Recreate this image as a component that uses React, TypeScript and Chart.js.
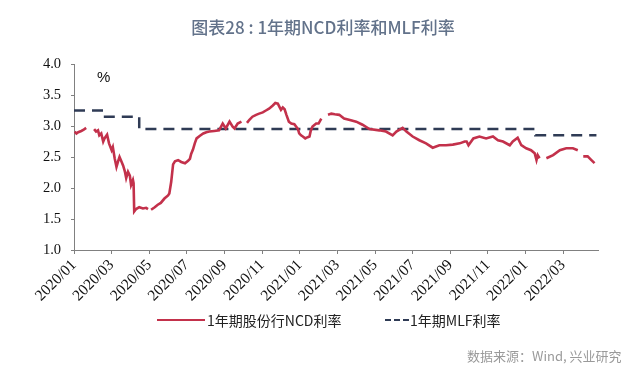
import { useEffect, useRef } from "react";
import { Chart, registerables } from "chart.js";

Chart.register(...registerables);

const titleText = "图表28 : 1年期NCD利率和MLF利率";
const ncdLabel = "1年期股份行NCD利率";
const mlfLabel = "1年期MLF利率";
const sourceText = "数据来源：Wind, 兴业研究";
const unitText = "%";

const xTickLabels = [
  "2020/01", "2020/03", "2020/05", "2020/07", "2020/09", "2020/11",
  "2021/01", "2021/03", "2021/05", "2021/07", "2021/09", "2021/11",
  "2022/01", "2022/03",
];
const yTicks = [1.0, 1.5, 2.0, 2.5, 3.0, 3.5, 4.0];

const ncdDates = [
  "2020-01-02", "2020-01-05", "2020-01-08", "2020-01-13", "2020-01-17", "2020-01-21", "2020-01-28",
  "2020-02-03", "2020-02-06", "2020-02-09", "2020-02-11", "2020-02-14", "2020-02-17", "2020-02-19",
  "2020-02-23", "2020-02-26", "2020-03-01", "2020-03-03", "2020-03-06", "2020-03-09", "2020-03-12",
  "2020-03-14", "2020-03-17", "2020-03-20", "2020-03-23", "2020-03-25", "2020-03-28", "2020-03-31",
  "2020-04-02", "2020-04-05", "2020-04-06", "2020-04-07", "2020-04-10", "2020-04-15", "2020-04-21",
  "2020-04-26", "2020-04-29", "2020-05-01", "2020-05-04", "2020-05-10", "2020-05-15", "2020-05-20",
  "2020-05-26", "2020-06-01", "2020-06-03", "2020-06-06", "2020-06-09", "2020-06-12", "2020-06-17",
  "2020-06-22", "2020-06-28", "2020-07-03", "2020-07-06", "2020-07-08", "2020-07-11", "2020-07-14",
  "2020-07-17", "2020-07-22", "2020-07-28", "2020-08-02", "2020-08-07", "2020-08-15", "2020-08-23",
  "2020-08-29", "2020-09-03", "2020-09-09", "2020-09-14", "2020-09-17", "2020-09-22", "2020-09-28",
  "2020-10-02", "2020-10-07", "2020-10-11", "2020-10-16", "2020-10-22", "2020-10-27", "2020-11-02",
  "2020-11-07", "2020-11-12", "2020-11-18", "2020-11-22", "2020-11-26", "2020-11-29", "2020-12-01",
  "2020-12-04", "2020-12-07", "2020-12-10", "2020-12-14", "2020-12-18", "2020-12-23", "2020-12-29",
  "2020-12-31", "2021-01-03", "2021-01-06", "2021-01-10", "2021-01-14", "2021-01-17", "2021-01-19",
  "2021-01-22", "2021-01-28", "2021-02-01", "2021-02-05", "2021-02-10", "2021-02-15", "2021-02-20",
  "2021-02-25", "2021-03-04", "2021-03-12", "2021-03-20", "2021-04-01", "2021-04-11", "2021-04-22",
  "2021-05-08", "2021-05-19", "2021-05-30", "2021-06-05", "2021-06-15", "2021-06-21", "2021-07-01",
  "2021-07-12", "2021-07-23", "2021-08-03", "2021-08-14", "2021-08-25", "2021-09-05", "2021-09-16",
  "2021-09-24", "2021-09-27", "2021-09-30", "2021-10-08", "2021-10-18", "2021-10-29", "2021-11-09",
  "2021-11-17", "2021-11-25", "2021-12-06", "2021-12-11", "2021-12-19", "2021-12-25", "2022-01-02",
  "2022-01-10", "2022-01-16", "2022-01-19", "2022-01-21", "2022-01-24", "2022-01-30", "2022-02-04",
  "2022-02-14", "2022-02-24", "2022-03-06", "2022-03-17", "2022-03-25", "2022-03-29", "2022-04-03",
  "2022-04-10", "2022-04-16", "2022-04-21",
];
const ncdValues: (number | null)[] = [
  2.91, 2.88, 2.90, 2.92, 2.94, 2.97, null,
  2.95, 2.91, 2.93, 2.85, 2.88, 2.75, 2.80,
  2.86, 2.72, 2.61, 2.66, 2.48, 2.34, 2.44,
  2.50, 2.43, 2.36, 2.26, 2.16, 2.26, 2.20,
  2.05, 2.13, 2.08, 1.62, 1.66, 1.69, 1.67,
  1.68, 1.66, null, 1.65, 1.69, 1.73, 1.76,
  1.83, 1.88, 1.91, 2.10, 2.38, 2.43, 2.45,
  2.42, 2.40, 2.44, 2.47, 2.55, 2.62, 2.72,
  2.80, 2.84, 2.88, 2.90, 2.91, 2.92, 2.93,
  3.04, 2.96, 3.07, 2.99, 2.96, 3.04, 3.07,
  null, 3.05, 3.10, 3.15, 3.18, 3.20, 3.22,
  3.25, 3.28, 3.33, 3.37, 3.36, 3.30, 3.26,
  3.30, 3.27, 3.18, 3.07, 3.04, 3.03, 2.95,
  2.88, 2.85, 2.83, 2.80, 2.82, 2.83, 2.92,
  2.99, 3.04, 3.04, 3.12, null, 3.18, 3.20,
  3.19, 3.18, 3.12, 3.10, 3.07, 3.02, 2.95,
  2.93, 2.91, 2.85, 2.91, 2.97, 2.91, 2.83,
  2.77, 2.72, 2.65, 2.69, 2.69, 2.70, 2.72,
  2.75, 2.75, 2.69, 2.80, 2.83, 2.80, 2.83,
  2.77, 2.75, 2.69, 2.75, 2.81, 2.69, 2.64,
  2.61, 2.56, 2.45, 2.53, 2.48, null, 2.48,
  2.53, 2.61, 2.64, 2.64, 2.61, null, 2.51,
  2.51, 2.45, 2.40,
];

const mlfDates = ["2020-01-01", "2020-02-17", "2020-04-15", "2022-01-17", "2022-04-24"];
const mlfValues = [3.25, 3.15, 2.95, 2.85, 2.85];

function toMonth(d: string): number {
  const [y, m, day] = d.split("-").map(Number);
  const dim = new Date(y, m, 0).getDate();
  return (y - 2020) * 12 + (m - 1) + (day - 1) / dim;
}

export default function App() {
  const ref = useRef<HTMLCanvasElement | null>(null);

  useEffect(() => {
    if (!ref.current) return;
    const ncdData = ncdDates.map((d, i) => ({ x: toMonth(d), y: ncdValues[i] }));
    const mlfData = mlfDates.map((d, i) => ({ x: toMonth(d), y: mlfValues[i] }));
    const serif = "'Liberation Serif', 'Times New Roman', serif";
    const chart = new Chart(ref.current, {
      type: "line",
      data: {
        datasets: [
          {
            label: ncdLabel,
            data: ncdData as any,
            borderColor: "#c3314b",
            borderWidth: 2.6,
            pointRadius: 0,
            tension: 0,
            spanGaps: false,
          },
          {
            label: mlfLabel,
            data: mlfData as any,
            borderColor: "#2f3b55",
            borderWidth: 2.5,
            borderDash: [11, 7],
            pointRadius: 0,
            stepped: true,
          },
        ],
      },
      options: {
        animation: false,
        responsive: false,
        devicePixelRatio: 1,
        layout: { padding: { top: 64, right: 42, left: 0, bottom: 0 } },
        plugins: { legend: { display: false }, tooltip: { enabled: false }, title: { display: false } },
        scales: {
          x: {
            type: "linear",
            min: 0,
            max: 27.85,
            afterBuildTicks: (scale: any) => {
              scale.ticks = xTickLabels.map((_, i) => ({ value: i * 2 }));
            },
            afterFit: (scale: any) => {
              scale.height = 139;
            },
            grid: { display: true, drawOnChartArea: false, drawTicks: true, tickLength: 4, color: "#808080" },
            border: { display: true, color: "#808080", width: 1 },
            ticks: {
              autoSkip: false,
              maxRotation: 45,
              minRotation: 45,
              padding: 2,
              color: "#111",
              font: { family: serif, size: 15.5 },
              callback: (_v: any, i: number) => xTickLabels[i],
            },
          },
          y: {
            min: 1,
            max: 4,
            afterBuildTicks: (scale: any) => {
              scale.ticks = yTicks.map((v) => ({ value: v }));
            },
            afterFit: (scale: any) => {
              scale.width = 74;
            },
            grid: { display: true, drawOnChartArea: false, drawTicks: true, tickLength: 3, color: "#808080" },
            border: { display: true, color: "#808080", width: 1 },
            ticks: {
              padding: 10,
              color: "#111",
              font: { family: serif, size: 14.5 },
              callback: (v: any) => Number(v).toFixed(1),
            },
          },
        },
      },
    });
    return () => chart.destroy();
  }, []);

  const cjk = "'Noto Sans CJK SC', 'Noto Sans', sans-serif";
  const dash = (left: number) => (
    <div style={{ position: "absolute", left, top: 319, width: 6, height: 0, borderTop: "2.5px solid #2f3b55" }} />
  );

  return (
    <div style={{ position: "fixed", left: 0, top: 0, width: 640, height: 389, background: "#fff", overflow: "hidden" }}>
      <canvas ref={ref} width={640} height={389} style={{ position: "absolute", left: 0, top: 0, width: 640, height: 389 }} />
      <div style={{ position: "absolute", left: 0, top: 16, width: 646, textAlign: "center", fontFamily: cjk, fontSize: 17, lineHeight: "22px", fontWeight: 500, color: "#62728a" }}>
        {titleText}
      </div>
      <div style={{ position: "absolute", left: 97, top: 68, fontFamily: "'Liberation Sans', Arial, sans-serif", fontSize: 15, lineHeight: "18px", color: "#111" }}>
        {unitText}
      </div>
      <div style={{ position: "absolute", left: 157, top: 319, width: 48, height: 0, borderTop: "2.5px solid #c3314b" }} />
      <div style={{ position: "absolute", left: 207, top: 311, fontFamily: cjk, fontSize: 14, lineHeight: "18px", color: "#222", whiteSpace: "nowrap" }}>
        {ncdLabel}
      </div>
      {dash(385)}
      {dash(394)}
      {dash(403)}
      <div style={{ position: "absolute", left: 410, top: 311, fontFamily: cjk, fontSize: 14, lineHeight: "18px", color: "#222", whiteSpace: "nowrap" }}>
        {mlfLabel}
      </div>
      <div style={{ position: "absolute", left: 467, top: 347, fontFamily: cjk, fontSize: 13, lineHeight: "18px", color: "#9a9a9a", whiteSpace: "nowrap" }}>
        {sourceText}
      </div>
    </div>
  );
}
